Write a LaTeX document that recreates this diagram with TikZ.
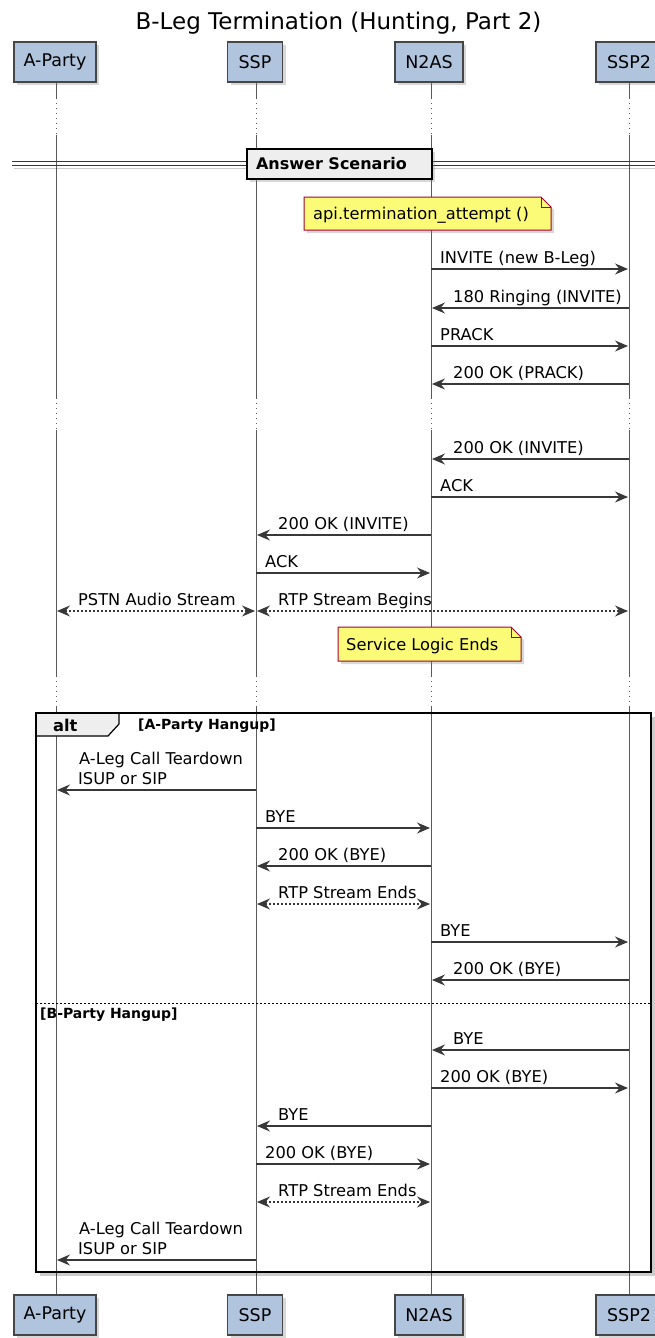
\documentclass[tikz,border=0pt]{standalone}
\usepackage{fontspec}
\setmainfont{DejaVu Sans}
\usetikzlibrary{arrows.meta,shadows}
\definecolor{partfill}{HTML}{B0C4DE}
\definecolor{partline}{HTML}{454645}
\definecolor{notefill}{HTML}{FBFB77}
\definecolor{noteline}{HTML}{A80036}
\definecolor{arrowc}{HTML}{383838}
\definecolor{lifec}{HTML}{5A5A5A}
\definecolor{grpfill}{HTML}{EEEEEE}
\tikzset{
  partbox/.style={draw=partline, fill=partfill, line width=1.2pt, minimum height=40pt, inner sep=0pt,
    font=\fontsize{17.5}{20}\selectfont, drop shadow={opacity=0.3, shadow xshift=3pt, shadow yshift=-3pt}},
  lifesolid/.style={draw=lifec, line width=0.9pt},
  lifedot/.style={draw=lifec, line width=0.9pt, dash pattern=on 1pt off 4pt},
  tipA/.tip={Stealth[length=13pt,width=11pt,inset=4.5pt]},
  msg/.style={draw=arrowc, line width=1.1pt, -tipA},
  bimsg/.style={draw=arrowc, line width=1.1pt, dash pattern=on 2pt off 2pt, tipA-tipA},
  lbl/.style={font=\fontsize{16.25}{19}\selectfont, inner sep=0pt, anchor=base west},
  notebox/.style={draw=noteline, fill=notefill, line width=1pt, drop shadow={opacity=0.3, shadow xshift=3pt, shadow yshift=-3pt}},
  notelbl/.style={font=\fontsize{16.25}{19}\selectfont, inner sep=0pt, anchor=base west},
  grplbl/.style={font=\bfseries\fontsize{14}{16}\selectfont, inner sep=0pt, anchor=base west},
  divbox/.style={draw=black, fill=grpfill, line width=2pt, inner sep=0pt, minimum height=30pt,
    font=\bfseries\fontsize{16}{19}\selectfont, drop shadow={opacity=0.3, shadow xshift=3pt, shadow yshift=-3pt}},
  frameshadow/.style={draw=black, opacity=0.2, line width=3pt},
}
\def\xA{56}\def\xS{256}\def\xN{431}\def\xT{629}
% right-pointing message: name, fromx, tox, y, label
\newcommand\rmsg[5]{%
  \coordinate (#1s) at (#2,#4); \coordinate (#1e) at (#3-1,#4);
  \draw[msg] (#1s) -- (#1e);
  \node[lbl] (#1l) at (#2+9,#4-5.5) {#5};}
% left-pointing message: name, fromx, tox, y, label
\newcommand\lmsg[5]{%
  \coordinate (#1s) at (#2,#4); \coordinate (#1e) at (#3+1,#4);
  \draw[msg] (#1s) -- (#1e);
  \node[lbl] (#1l) at (#3+22,#4-5.5) {#5};}
% bidirectional dotted: name, leftx, rightx, y, label
\newcommand\bmsg[5]{%
  \coordinate (#1s) at (#2+1,#4); \coordinate (#1e) at (#3-1,#4);
  \draw[bimsg] (#1s) -- (#1e);
  \node[lbl] (#1l) at (#2+22,#4-5.5) {#5};}
\begin{document}
\begin{tikzpicture}[x=1pt,y=-1pt]
\useasboundingbox (0,0) rectangle (655,1338);
\fill[white] (0,0) rectangle (655,1338);

% title
\node[font=\fontsize{23}{27}\selectfont, inner sep=0pt, anchor=base] (title) at (338.5,30) {B-Leg Termination (Hunting, Part 2)};

% lifelines
\foreach \x in {\xA,\xS,\xN,\xT}{
  \draw[lifesolid] (\x,82) -- (\x,98);
  \draw[lifedot] (\x,98) -- (\x,135);
  \draw[lifesolid] (\x,135) -- (\x,398);
  \draw[lifedot] (\x,398) -- (\x,430);
  \draw[lifesolid] (\x,430) -- (\x,676);
  \draw[lifedot] (\x,676) -- (\x,706);
  \draw[lifesolid] (\x,706) -- (\x,1295);
}

% participants
\node[partbox, minimum width=82pt] (pAt) at (55,62) {A-Party};
\node[partbox, minimum width=55pt] (pSt) at (255,62) {SSP};
\node[partbox, minimum width=68pt] (pNt) at (429,62) {N2AS};
\node[partbox, minimum width=66pt] (pTt) at (629,62) {SSP2};
\node[partbox, minimum width=82pt] (pAb) at (55,1315) {A-Party};
\node[partbox, minimum width=55pt] (pSb) at (255,1315) {SSP};
\node[partbox, minimum width=68pt] (pNb) at (429,1315) {N2AS};
\node[partbox, minimum width=66pt] (pTb) at (629,1315) {SSP2};

% divider
\draw[draw=black, opacity=0.2, line width=1.2pt] (14,168.5) -- (660,168.5);
\draw[draw=arrowc, line width=1.2pt] (12,161.5) -- (660,161.5);
\draw[draw=arrowc, line width=1.2pt] (12,165.5) -- (660,165.5);
\node[divbox, minimum width=185pt] (div) at (339.5,164) {\hspace*{-16pt}Answer Scenario};

% note 1
\path[notebox] (304,197) -- (541,197) -- (551,207) -- (551,230) -- (304,230) -- cycle;
\draw[draw=noteline, line width=1pt] (541,197) -- (541,207) -- (551,207);
\node[notelbl] (n1) at (313,219) {api.termination\_attempt ()};

% messages
\rmsg{m1}{\xN}{\xT}{269}{INVITE (new B-Leg)}
\lmsg{m2}{\xT}{\xN}{308}{180 Ringing (INVITE)}
\rmsg{m3}{\xN}{\xT}{346}{PRACK}
\lmsg{m4}{\xT}{\xN}{384}{200 OK (PRACK)}
\lmsg{m5}{\xT}{\xN}{459}{200 OK (INVITE)}
\rmsg{m6}{\xN}{\xT}{497}{ACK}
\lmsg{m7}{\xN}{\xS}{535}{200 OK (INVITE)}
\rmsg{m8}{\xS}{\xN}{573}{ACK}
\bmsg{m9}{\xA}{\xS}{611}{PSTN Audio Stream}
\bmsg{m10}{\xS}{\xT}{611}{RTP Stream Begins}

% note 2
\path[notebox] (338,627) -- (511,627) -- (521,637) -- (521,661) -- (338,661) -- cycle;
\draw[draw=noteline, line width=1pt] (511,627) -- (511,637) -- (521,637);
\node[notelbl] (n2) at (346,650) {Service Logic Ends};

% alt frame
\draw[frameshadow] (653.5,717) -- (653.5,1274.5) -- (40,1274.5);
\draw[draw=black, line width=2.5pt] (36,713) rectangle (651,1272);
\path[fill=grpfill, draw=black, line width=1.2pt] (36,713) -- (119,713) -- (119,724) -- (108,736) -- (36,736) -- cycle;
\draw[draw=black, line width=2.5pt] (36,713) -- (651,713);
\draw[draw=black, line width=2.5pt] (36,713) -- (36,736);
\node[font=\bfseries\fontsize{16.25}{19}\selectfont, inner sep=0pt, anchor=base west] (altl) at (53,731) {alt};
\node[grplbl] (g1) at (138,729) {[A-Party Hangup]};

\lmsg{m11}{\xS}{\xA}{790}{ISUP or SIP}
\node[lbl] (m11a) at (79,764.5) {A-Leg Call Teardown};
\rmsg{m12}{\xS}{\xN}{828}{BYE}
\lmsg{m13}{\xN}{\xS}{866}{200 OK (BYE)}
\bmsg{m14}{\xS}{\xN}{904}{RTP Stream Ends}
\rmsg{m15}{\xN}{\xT}{942}{BYE}
\lmsg{m16}{\xT}{\xN}{980}{200 OK (BYE)}

\draw[draw=black, line width=1pt, dash pattern=on 2pt off 2pt] (36,1003.5) -- (651,1003.5);
\node[grplbl] (g2) at (40,1018) {[B-Party Hangup]};

\lmsg{m17}{\xT}{\xN}{1050}{BYE}
\rmsg{m18}{\xN}{\xT}{1088}{200 OK (BYE)}
\lmsg{m19}{\xN}{\xS}{1126}{BYE}
\rmsg{m20}{\xS}{\xN}{1164}{200 OK (BYE)}
\bmsg{m21}{\xS}{\xN}{1202}{RTP Stream Ends}
\lmsg{m22}{\xS}{\xA}{1260}{ISUP or SIP}
\node[lbl] (m22a) at (79,1234.5) {A-Leg Call Teardown};
\end{tikzpicture}
\end{document}
